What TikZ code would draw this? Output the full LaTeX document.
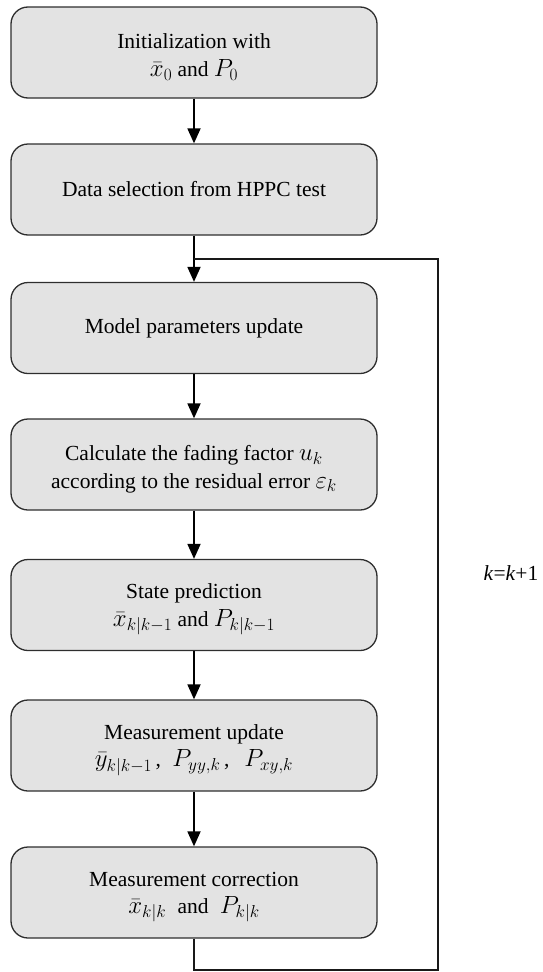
\documentclass[tikz,border=0pt]{standalone}
\usepackage{fontspec}
\setmainfont{Liberation Serif}
\newfontfamily\boxserif{Liberation Serif}
\usetikzlibrary{arrows.meta}

\definecolor{boxfill}{HTML}{E3E3E3}
\definecolor{boxline}{HTML}{2E2E2E}

% math set a little larger than the surrounding text
\newcommand{\mth}[1]{{\fontsize{23}{27}\selectfont$#1$}}

\tikzset{
  stepbox/.style={draw=boxline, fill=boxfill, line width=1.3pt,
    rounded corners=17pt, minimum width=366pt, minimum height=91pt,
    inner sep=0pt},
  boxtext/.style={align=center, inner sep=0pt,
    font=\boxserif\fontsize{21.5}{27.5}\selectfont},
  twoline/.style={boxtext, yshift=-4.5pt},
  flow/.style={line width=1.8pt, -{Triangle[width=13pt,length=15pt]}},
  loopline/.style={line width=1.4pt, draw=black!90},
}

\begin{document}
\begin{tikzpicture}[x=1pt, y=-1pt]
  \useasboundingbox (0,0) rectangle (543,972);

  % process boxes
  \node[stepbox] (init)  at (194,52.5) {};
  \node[stepbox] (data)  at (194,189.5) {};
  \node[stepbox] (model) at (194,328) {};
  \node[stepbox] (fade)  at (194,464.5) {};
  \node[stepbox] (pred)  at (194,605) {};
  \node[stepbox] (meas)  at (194,745.5) {};
  \node[stepbox] (corr)  at (194,892.5) {};

  % box texts
  \node[twoline] (initT) at (init.center)
    {Initialization with\\ \mth{\bar{x}_0} and \mth{P_0}};
  \node[boxtext] (dataT) at (data.center)
    {Data selection from HPPC test};
  \node[boxtext] (modelT) at (model.center)
    {Model parameters update};
  \node[twoline] (fadeT) at (fade.center)
    {Calculate the fading factor \mth{u_k}\\ according to the residual error \mth{\varepsilon_k}};
  \node[twoline] (predT) at (pred.center)
    {State prediction\\ \mth{\bar{x}_{k|k-1}} and \mth{P_{k|k-1}}};
  \node[twoline] (measT) at (meas.center)
    {Measurement update\\ \mth{\bar{y}_{k|k-1}}\,,\; \mth{P_{yy,k}}\,,\;\, \mth{P_{xy,k}}};
  \node[twoline] (corrT) at (corr.center)
    {Measurement correction\\ \mth{\bar{x}_{k|k}}\; and\; \mth{P_{k|k}}};

  % feedback loop corners
  \coordinate (join) at (194,259);
  \coordinate (bl) at (194,970);
  \coordinate (br) at (438,970);
  \coordinate (tr) at (438,259);

  \draw[flow] (init) -- (data);
  \draw[flow] (data) -- (model);
  \draw[flow] (model) -- (fade);
  \draw[flow] (fade) -- (pred);
  \draw[flow] (pred) -- (meas);
  \draw[flow] (meas) -- (corr);

  \draw[loopline] (corr.south) -- (bl) -- (br) -- (tr) -- (join);

  \node[font=\boxserif\fontsize{21.5}{24}\selectfont, inner sep=0pt] (inc) at (511,573)
    {\textit{k}=\textit{k}+1};
\end{tikzpicture}
\end{document}
